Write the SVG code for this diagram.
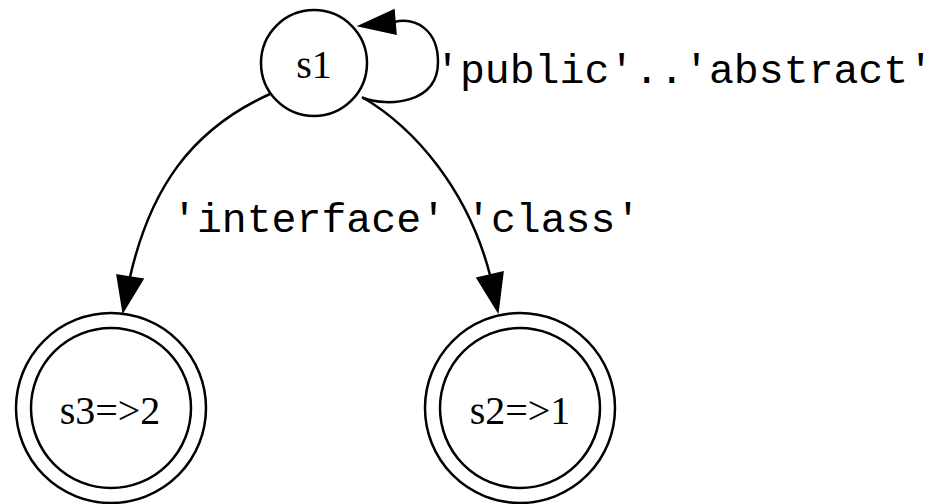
<svg xmlns="http://www.w3.org/2000/svg" width="945" height="504" viewBox="0 0 945 504">
  <style>
    .ring { fill: none; stroke: #000; stroke-width: 2.5; }
    .edge { fill: none; stroke: #000; stroke-width: 2.5; }
    .head { fill: #000; stroke: #000; stroke-width: 1.5; stroke-linejoin: miter; }
    .state { font-family: "Liberation Serif", "Times New Roman", serif; font-size: 40px; fill: #000; text-anchor: middle; }
    .lbl { font-family: "Liberation Mono", "Courier New", monospace; font-size: 41.5px; fill: #000; }
  </style>
  <rect width="945" height="504" fill="#fff"/>

  <!-- transitions -->
  <g id="edges">
    <!-- s1 self-loop -->
    <path class="edge" d="M363,98 C388,107 438,104 438,62 C438,30 416,17 394,22"/>
    <polygon class="head" points="394,10 396,34 359,26"/>
    <text class="lbl" x="435" y="83">'public'..'abstract'</text>

    <!-- s1 -> s3 -->
    <path class="edge" d="M270,94 C190,130 150,190 130,277"/>
    <polygon class="head" points="117,275 143,279 123,312"/>
    <text class="lbl" x="172" y="232">'interface'</text>

    <!-- s1 -> s2 -->
    <path class="edge" d="M362,97 C415,128 468,190 490,275"/>
    <polygon class="head" points="477,278 503,272 498,312"/>
    <text class="lbl" x="466" y="232">'class'</text>
  </g>

  <g id="s1">
    <circle class="ring" cx="314" cy="63" r="53"/>
    <text class="state" x="314" y="78">s1</text>
  </g>

  <g id="s3">
    <circle class="ring" cx="111" cy="408" r="95"/>
    <circle class="ring" cx="111" cy="408" r="80"/>
    <text class="state" x="110" y="424">s3=&gt;2</text>
  </g>

  <g id="s2">
    <circle class="ring" cx="520" cy="408" r="95"/>
    <circle class="ring" cx="520" cy="408" r="80"/>
    <text class="state" x="520" y="424">s2=&gt;1</text>
  </g>
</svg>
